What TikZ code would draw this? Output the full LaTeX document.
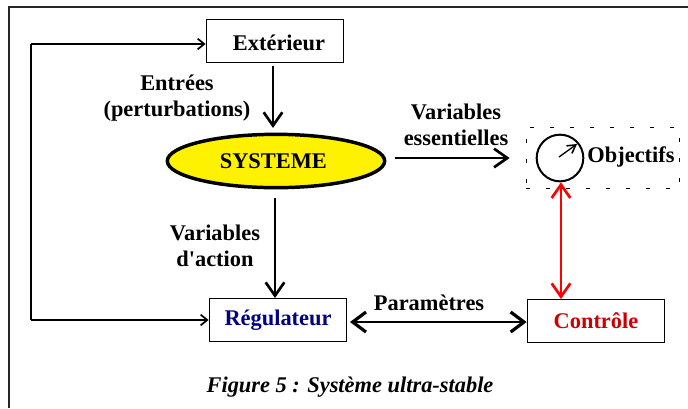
\documentclass[tikz,border=0pt]{standalone}
\usepackage{fontspec}
\setmainfont{Liberation Serif}
\newfontfamily\nomap{Liberation Serif}
\usetikzlibrary{arrows.meta,shapes.geometric}
\newcommand{\bigtxt}{\fontsize{16.8pt}{19.5pt}\selectfont\bfseries}
\tikzset{
  x=0.75pt,y=-0.75pt,
  lbl/.style={font=\bigtxt,align=center,inner sep=0pt},
  boxn/.style={draw=black,line width=1pt,fill=white,minimum width=103pt,minimum height=32pt,inner sep=0pt,font=\bigtxt},
  bigarrow/.style={line width=1.4pt,-{Straight Barb[length=10pt,width=14pt,line width=2pt]}},
  smallarrow/.style={line width=1.2pt,-{Straight Barb[length=5pt,width=8pt,line width=1.3pt]}},
  redarrow/.style={draw={rgb,255:red,255;green,0;blue,0},line width=1.4pt,{Straight Barb[length=10pt,width=14pt,line width=2pt]}-{Straight Barb[length=10pt,width=14pt,line width=2pt]}},
  dblarrow/.style={line width=1.7pt,{Straight Barb[length=10pt,width=15pt,line width=2.4pt]}-{Straight Barb[length=10pt,width=15pt,line width=2.4pt]}}
}
\definecolor{regblue}{RGB}{0,0,128}
\definecolor{ctrlred}{RGB}{204,0,0}
\begin{document}
\begin{tikzpicture}
\useasboundingbox (0,0) rectangle (688,408);
\fill[white] (0,0) rectangle (688,408);
\draw[line width=1.1pt,draw=black!85] (9,408) -- (9,7) -- (688,7);
\node[boxn] (ext) at (275,41) {};
\node[lbl] at (279,43) {Extérieur};
\node[boxn,text=regblue] (reg) at (278,320) {Régulateur};
\node[boxn,text=ctrlred] (ctl) at (596,321) {Contrôle};
\node[ellipse,draw=black,line width=2.6pt,fill=yellow,minimum width=163pt,minimum height=40pt,inner sep=0pt,font=\bigtxt] (sys) at (276,161) {\hspace*{-4pt}\raisebox{-1.5pt}{SYSTEME}};
\node[draw=black,dash pattern=on 3pt off 12pt,line width=0.7pt,minimum width=115pt,minimum height=46pt,inner sep=0pt] (obj) at (603,158) {};
\node[circle,draw=black,line width=1.5pt,minimum size=35pt,inner sep=0pt] (dial) at (560,158) {};
\node[lbl] (objt) at (631,157) {Objectifs};
\coordinate (nb) at (559,157);
\coordinate (nt) at (577,144);
\draw[line width=1pt,-{Straight Barb[length=6pt,width=7pt,line width=1.2pt]}] (nb) -- (nt);
\node[lbl] at (177,98) {Entrées\\(perturbations)};
\node[lbl] at (456,125) {Variables\\essentielles};
\node[lbl] at (215,246) {Variables\\{\nomap\bigtxt d'action}};
\node[lbl] at (429,303) {Paramètres};
\node[font=\bigtxt\itshape,inner sep=0pt] at (350,387) {Figure 5 : Système ultra-stable};
\coordinate (lt) at (31,44);
\coordinate (lb) at (31,320);
\coordinate (esa) at (395,158);
\draw[smallarrow] (lt) -- (ext.west |- lt);
\draw[line width=1.2pt] (lt) -- (lb);
\draw[smallarrow] (lb) -- (reg.west);
\draw[bigarrow,shorten <=2pt,shorten >=3.5pt] (ext.south -| 273,0) -- (sys.north -| 273,0);
\draw[bigarrow,shorten <=6.5pt] (sys.south -| 275,0) -- (reg.north -| 275,0);
\draw[bigarrow,shorten >=19.5pt,shorten <=6.5pt] (sys.east |- esa) -- (dial.west |- esa);
\draw[redarrow] (dial.south -| 561,0) -- (ctl.north -| 561,0);
\draw[dblarrow,shorten <=2pt] (reg.east |- 0,322) -- (ctl.west |- 0,322);
\end{tikzpicture}
\end{document}
